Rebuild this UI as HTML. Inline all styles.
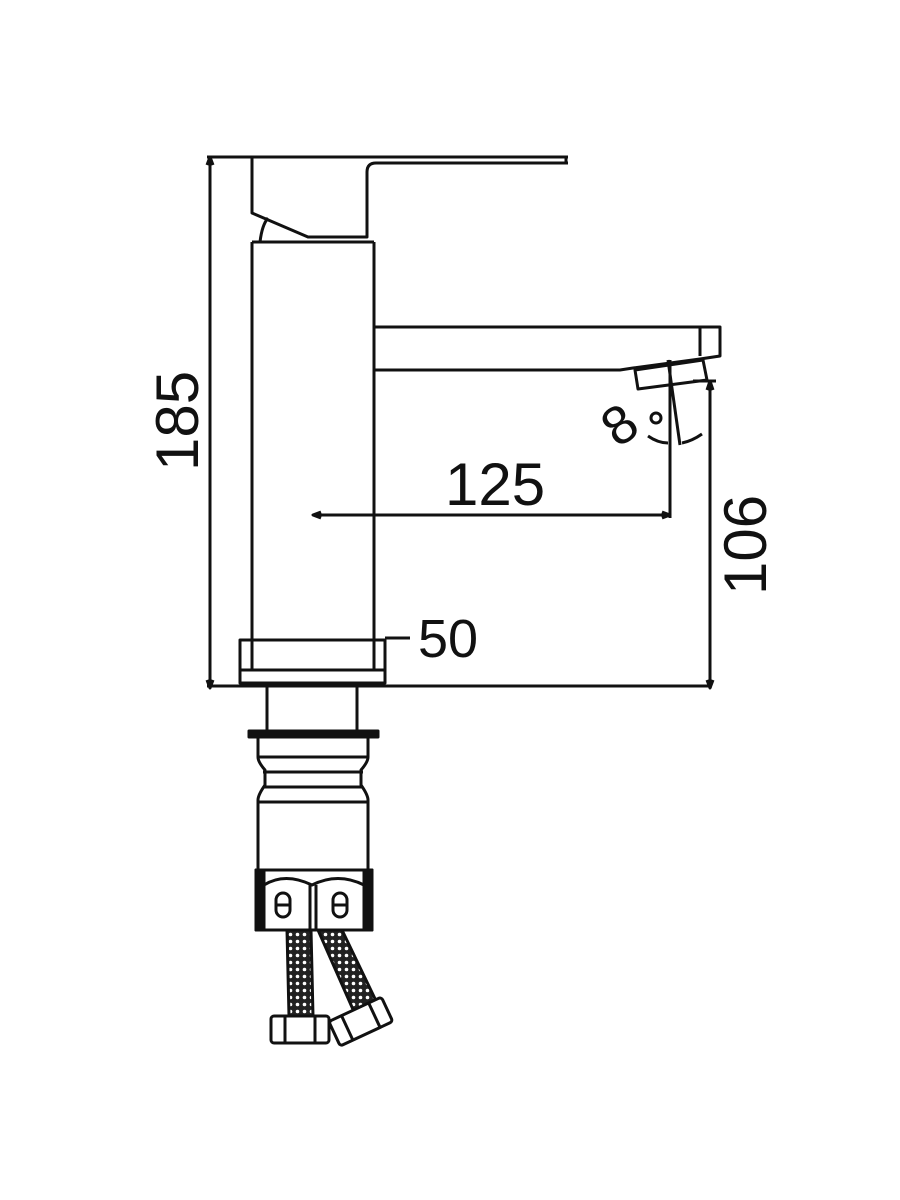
<!DOCTYPE html>
<html><head><meta charset="utf-8"><style>html,body{margin:0;padding:0;background:#fff}svg{display:block}</style></head>
<body>
<svg width="900" height="1200" viewBox="0 0 900 1200" xmlns="http://www.w3.org/2000/svg">
<defs>
<pattern id="mesh" width="7" height="7" patternUnits="userSpaceOnUse">
<rect width="7" height="7" fill="#222"/><circle cx="3.5" cy="3.5" r="1.8" fill="#fff"/>
</pattern>
</defs>
<g fill="none" stroke="#111" stroke-width="3" stroke-linejoin="round">
<line x1="207" y1="157" x2="568" y2="157"/>
<line x1="210" y1="157" x2="210" y2="688"/>
<path d="M207,165 L210,157 L213,165" fill="#111"/>
<path d="M207,680 L210,688 L213,680" fill="#111"/>
<path d="M252,157 L252,213 L308,237 L367,237 L367,172 Q367,163 376,163 L568,163"/>
<line x1="566" y1="157" x2="566" y2="163"/>
<path d="M260,242 Q262,225 268,218"/>
<path d="M252,242 L374,242"/>
<line x1="252" y1="242" x2="252" y2="670"/>
<line x1="374" y1="242" x2="374" y2="670"/>
<path d="M374,327 L720,327 L720,356 L700,359 L633,368 L620,370 L374,370"/>
<path d="M700,327 L700,356"/>
<path d="M635,370 L703,360 L707,380 L638,389 Z"/>
<line x1="670" y1="360" x2="670" y2="518"/>
<line x1="668" y1="360" x2="680" y2="445"/>
<path d="M648,436 Q658,443 668,443"/>
<path d="M682,443 Q692,441 702,434"/>
<line x1="693" y1="381" x2="716" y2="381"/>
<line x1="710" y1="381" x2="710" y2="688"/>
<path d="M707,390 L710,381 L713,390" fill="#111"/>
<path d="M707,680 L710,688 L713,680" fill="#111"/>
<line x1="313" y1="515" x2="670" y2="515"/>
<path d="M662,512 L670,515 L662,518" fill="#111"/>
<path d="M321,512 L313,515 L321,518" fill="#111"/>
<rect x="240" y="640" width="145" height="43"/>
<line x1="240" y1="670" x2="385" y2="670"/>
<line x1="385" y1="638" x2="410" y2="638"/>
<line x1="207" y1="686" x2="712" y2="686"/>
<line x1="267" y1="686" x2="267" y2="731"/>
<line x1="357" y1="686" x2="357" y2="731"/>
<rect x="249" y="731" width="129" height="6" fill="#111"/>
<path d="M258,737 L258,757 Q258,762 265,770 L265,785 Q258,795 258,800 L258,870"/>
<path d="M368,737 L368,757 Q368,762 361,770 L361,785 Q368,795 368,800 L368,870"/>
<line x1="258" y1="757" x2="368" y2="757"/>
<line x1="263" y1="772" x2="363" y2="772"/>
<line x1="263" y1="787" x2="363" y2="787"/>
<line x1="258" y1="802" x2="368" y2="802"/>
<line x1="258" y1="870" x2="368" y2="870"/>
<rect x="256" y="870" width="116" height="60"/>
<rect x="256" y="870" width="8" height="60" fill="#111"/>
<rect x="364" y="870" width="8" height="60" fill="#111"/>
<path d="M264,885 Q285,872 312,885 Q338,872 364,885"/>
<line x1="310" y1="885" x2="310" y2="930"/>
<line x1="316" y1="885" x2="316" y2="930"/>
<rect x="276" y="893" width="14" height="24" rx="7"/>
<line x1="276" y1="905" x2="290" y2="905"/>
<rect x="333" y="893" width="14" height="24" rx="7"/>
<line x1="333" y1="905" x2="347" y2="905"/>
<path d="M287,930 L311,930 L313,1016 L289,1016 Z" fill="url(#mesh)"/>
<path d="M318,930 L342,930 L378,1005 L355,1014 Z" fill="url(#mesh)"/>
<rect x="271" y="1016" width="58" height="27" rx="3" fill="#fff"/>
<line x1="285" y1="1016" x2="285" y2="1043"/>
<line x1="315" y1="1016" x2="315" y2="1043"/>
<g transform="rotate(-25 361 1022)">
<rect x="332" y="1008" width="58" height="27" rx="3" fill="#fff"/>
<line x1="346" y1="1008" x2="346" y2="1035"/>
<line x1="376" y1="1008" x2="376" y2="1035"/>
</g>
</g>
<g font-family="Liberation Sans, sans-serif" fill="#111" font-size="60">
<text x="445" y="505">125</text>
<text x="418" y="657" font-size="54">50</text>
<text transform="translate(198,421) rotate(-90)" text-anchor="middle">185</text>
<text transform="translate(766,545) rotate(-90)" text-anchor="middle">106</text>
<text transform="translate(630,440) rotate(-35)" text-anchor="middle" font-size="54">8</text>
</g>
<circle cx="656" cy="418" r="5" fill="none" stroke="#111" stroke-width="3"/>
</svg>
</body></html>
